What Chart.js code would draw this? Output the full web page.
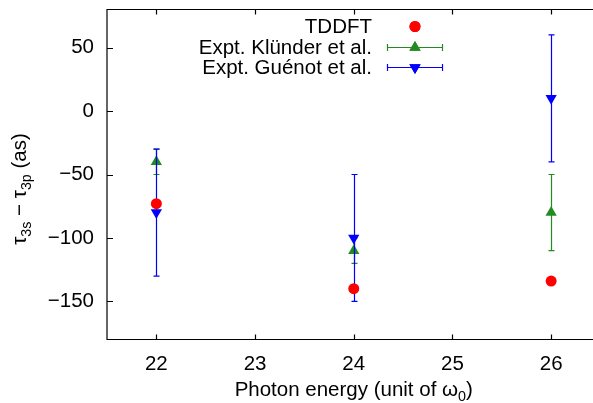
<!DOCTYPE html>
<html>
<head>
<meta charset="utf-8">
<script src="https://cdn.jsdelivr.net/npm/chart.js@4"></script>
<style>
  html, body { margin: 0; padding: 0; background: #fff; overflow: hidden; }
  /* plot box runs a little past the right edge of the window, like the original */
  #wrap { width: 607px; height: 403px; }
</style>
</head>
<body>
<div id="wrap"><canvas id="delayChart"></canvas></div>
<script>
const energies = [22, 24, 26];
const tddft = [-73, -140, -134];
const kluender = [-40, -110, -80];
const kluenderErr = [10, 10, 30];
const guenot = [-80, -100, 10];
const guenotErr = [50, 50, 50];
const xTicks = [22, 23, 24, 25, 26];
const yTicks = [-150, -100, -50, 0, 50];
const seriesNames = ["TDDFT", "Expt. Klünder et al.", "Expt. Guénot et al."];

const FONT = "Liberation Sans, Arial, sans-serif";
const GREEN = "#228b22";
const BLUE = "#0000ff";
const RED = "#ff0000";

const toPoints = (ys) => ys.map((y, i) => ({ x: energies[i], y: y }));

// draws a row of text runs, some as subscripts
function drawRuns(ctx, runs, x, y, size) {
  let cx = x;
  runs.forEach((r) => {
    const s = r.sub ? size * 0.7 : size;
    ctx.font = s + "px " + FONT;
    ctx.fillText(r.t, cx, r.sub ? y + size * 0.22 : y);
    cx += ctx.measureText(r.t).width;
  });
}
function runsWidth(ctx, runs, size) {
  let w = 0;
  runs.forEach((r) => {
    ctx.font = (r.sub ? size * 0.7 : size) + "px " + FONT;
    w += ctx.measureText(r.t).width;
  });
  return w;
}

const errors = { 1: kluenderErr, 2: guenotErr };
const errorBars = {
  id: "errorBars",
  beforeDatasetDraw(chart, args) {
    const errs = errors[args.index];
    if (!errs) return;
    const ds = chart.data.datasets[args.index];
    const xs = chart.scales.x, ys = chart.scales.y;
    const ctx = chart.ctx;
    ctx.save();
    ctx.strokeStyle = ds.backgroundColor;
    ctx.lineWidth = 1.2;
    ds.data.forEach((p, i) => {
      const px = Math.round(xs.getPixelForValue(p.x)) + 0.5;
      const top = ys.getPixelForValue(p.y + errs[i]);
      const bot = ys.getPixelForValue(p.y - errs[i]);
      ctx.beginPath();
      ctx.moveTo(px, top); ctx.lineTo(px, bot);
      ctx.moveTo(px - 3, top); ctx.lineTo(px + 3, top);
      ctx.moveTo(px - 3, bot); ctx.lineTo(px + 3, bot);
      ctx.stroke();
    });
    ctx.restore();
  },
};

const frame = {
  id: "frame",
  afterDraw(chart) {
    const { ctx, chartArea: a } = chart;
    const xs = chart.scales.x, ys = chart.scales.y;
    ctx.save();
    ctx.strokeStyle = "#000";
    ctx.lineWidth = 1.2;
    ctx.beginPath();
    ctx.moveTo(a.right, a.top); ctx.lineTo(a.left, a.top);
    ctx.lineTo(a.left, a.bottom); ctx.lineTo(a.right, a.bottom);
    xTicks.forEach((v) => {
      const px = Math.round(xs.getPixelForValue(v)) + 0.5;
      ctx.moveTo(px, a.bottom); ctx.lineTo(px, a.bottom - 5);
      ctx.moveTo(px, a.top); ctx.lineTo(px, a.top + 5);
    });
    yTicks.forEach((v) => {
      const py = Math.round(ys.getPixelForValue(v)) + 0.5;
      ctx.moveTo(a.left, py); ctx.lineTo(a.left + 6, py);
    });
    ctx.stroke();

    // axis titles
    ctx.fillStyle = "#000";
    ctx.textBaseline = "alphabetic";
    ctx.textAlign = "left";
    const size = 20.5;
    const xRuns = [{ t: "Photon energy (unit of ω" }, { t: "0", sub: true }, { t: ")" }];
    const xw = runsWidth(ctx, xRuns, size);
    drawRuns(ctx, xRuns, (a.left + a.right) / 2 - xw / 2, 396, size);

    const yRuns = [
      { t: "τ" }, { t: "3s", sub: true }, { t: " − τ" }, { t: "3p", sub: true }, { t: " (as)" },
    ];
    const yw = runsWidth(ctx, yRuns, size);
    ctx.save();
    ctx.translate(26, 189);
    ctx.rotate(-Math.PI / 2);
    drawRuns(ctx, yRuns, -yw / 2, 0, size);
    ctx.restore();

    // legend, gnuplot style
    const rowsY = [26, 47, 67];
    ctx.font = size + "px " + FONT;
    ctx.textAlign = "right";
    ctx.textBaseline = "middle";
    chart.data.datasets.forEach((ds, i) => {
      const y = rowsY[i];
      ctx.fillStyle = "#000";
      ctx.fillText(seriesNames[i], 372, y + 1);
      if (errors[i]) {
        ctx.strokeStyle = ds.backgroundColor;
        ctx.lineWidth = 1.2;
        ctx.beginPath();
        ctx.moveTo(387, y + 0.5); ctx.lineTo(443, y + 0.5);
        ctx.moveTo(387.5, y - 3); ctx.lineTo(387.5, y + 4);
        ctx.moveTo(442.5, y - 3); ctx.lineTo(442.5, y + 4);
        ctx.stroke();
      }
      ctx.fillStyle = ds.backgroundColor;
      Chart.helpers.drawPoint(ctx, {
        pointStyle: ds.pointStyle,
        rotation: ds.rotation || 0,
        radius: ds.pointRadius,
        borderWidth: 0,
      }, 415, y + 0.5);
      ctx.fill();
    });
    ctx.restore();
  },
};

const chart = new Chart(document.getElementById("delayChart"), {
  type: "scatter",
  data: {
    datasets: [
      {
        label: seriesNames[0],
        data: toPoints(tddft),
        pointStyle: "circle",
        pointRadius: 5.5,
        backgroundColor: RED,
        borderWidth: 0,
        order: 0,
      },
      {
        label: seriesNames[1],
        data: toPoints(kluender),
        pointStyle: "triangle",
        pointRadius: 6.5,
        backgroundColor: GREEN,
        borderWidth: 0,
        order: 2,
      },
      {
        label: seriesNames[2],
        data: toPoints(guenot),
        pointStyle: "triangle",
        rotation: 180,
        pointRadius: 6.5,
        backgroundColor: BLUE,
        borderWidth: 0,
        order: 1,
      },
    ],
  },
  options: {
    responsive: true,
    maintainAspectRatio: false,
    animation: false,
    layout: { padding: { top: 9.5, right: 0, left: 0, bottom: 0 } },
    plugins: { legend: { display: false }, tooltip: { enabled: false } },
    elements: { point: { borderWidth: 0 } },
    scales: {
      x: {
        type: "linear",
        min: 21.5,
        max: 26.5,
        grid: { display: false, drawTicks: false },
        border: { display: false },
        ticks: { padding: 13, color: "#000", font: { family: FONT, size: 20.5 } },
        afterBuildTicks: (s) => { s.ticks = xTicks.map((v) => ({ value: v })); },
        afterFit: (s) => {
          s.height = 63.5;
          s.paddingLeft = 0; s.paddingRight = 0;
        },
      },
      y: {
        min: -180,
        max: 80,
        grid: { display: false, drawTicks: false },
        border: { display: false },
        ticks: {
          padding: 13,
          color: "#000",
          font: { family: FONT, size: 20.5 },
          callback: (v) => String(v).replace("-", "−"),
        },
        afterBuildTicks: (s) => { s.ticks = yTicks.map((v) => ({ value: v })); },
        afterFit: (s) => {
          s.width = 107;
          s.paddingTop = 0; s.paddingBottom = 0;
        },
      },
    },
  },
  plugins: [errorBars, frame],
});
</script>
</body>
</html>
